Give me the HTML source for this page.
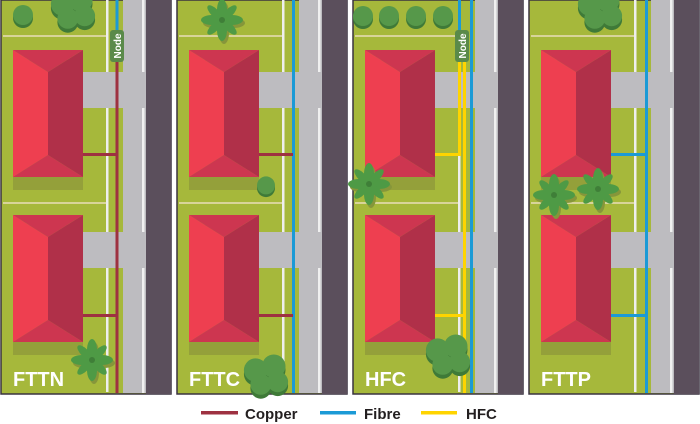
<!DOCTYPE html>
<html><head><meta charset="utf-8"><style>
html,body{margin:0;padding:0;background:#fff;width:700px;height:424px;overflow:hidden}
svg{display:block;font-family:"Liberation Sans",sans-serif}
</style></head><body>
<svg width="700" height="424" viewBox="0 0 700 424" xmlns="http://www.w3.org/2000/svg">
<defs>
<g id="house">
<rect x="13" y="60" width="70" height="130" fill="#94a03a"/>
<polygon points="13,50 48,72 48,155 13,177" fill="#ee3f50"/>
<polygon points="83,50 83,177 48,155 48,72" fill="#b03049"/>
<polygon points="13,50 83,50 48,72" fill="#cd3650"/>
<polygon points="13,177 83,177 48,155" fill="#cd3650"/>
</g>
<g id="base">
<rect x="1" y="0" width="170" height="394" fill="#a6b83b" stroke="#3a3340" stroke-width="1.5"/>
<rect x="3" y="35" width="104" height="2" fill="#d8d49a"/>
<rect x="3" y="202" width="104" height="2" fill="#d8d49a"/>
<rect x="106" y="0" width="2.5" height="392" fill="#eeeeee"/>
<rect x="123" y="0" width="23" height="393" fill="#bdbcc0"/>
<rect x="142" y="0" width="2.5" height="393" fill="#f0f0f0"/>
<rect x="83" y="72" width="63" height="36" fill="#bdbcc0"/>
<rect x="83" y="232" width="63" height="36" fill="#bdbcc0"/>
<rect x="146" y="0" width="25" height="394" fill="#5b4f5c"/>
<use href="#house"/>
<use href="#house" transform="translate(0,165)"/>
</g>
<g id="palm">
<g fill="#86963a" transform="translate(2,3)">
<ellipse cx="0" cy="-10" rx="5" ry="11"/><ellipse cx="0" cy="10" rx="5" ry="11"/><ellipse cx="-10" cy="0" rx="11" ry="5"/><ellipse cx="10" cy="0" rx="11" ry="5"/>
</g>
<g fill="#4e9a45">
<ellipse cx="0" cy="-10" rx="5" ry="11"/><ellipse cx="0" cy="10" rx="5" ry="11"/><ellipse cx="-10" cy="0" rx="11" ry="5"/><ellipse cx="10" cy="0" rx="11" ry="5"/>
<ellipse cx="0" cy="-10" rx="4" ry="10" transform="rotate(45)"/><ellipse cx="0" cy="10" rx="4" ry="10" transform="rotate(45)"/><ellipse cx="-10" cy="0" rx="10" ry="4" transform="rotate(45)"/><ellipse cx="10" cy="0" rx="10" ry="4" transform="rotate(45)"/>
</g>
<circle r="3" fill="#3f7f38"/>
</g>
<g id="bush"><circle cx="0" cy="3" r="10" fill="#3f7a38"/><circle r="10" fill="#56984a"/></g>
<g id="cloud">
<g transform="scale(1.3)">
<g fill="#3f7a38" transform="translate(0,3)"><circle cx="-8" cy="-3" r="9"/><circle cx="6" cy="-6" r="9"/><circle cx="9" cy="6" r="8"/><circle cx="-4" cy="8" r="8"/></g>
<g fill="#56984a"><circle cx="-8" cy="-3" r="9"/><circle cx="6" cy="-6" r="9"/><circle cx="9" cy="6" r="8"/><circle cx="-4" cy="8" r="8"/></g>
</g>
</g>
</defs>

<g>
<use href="#base"/>
<rect x="115.5" y="0" width="3" height="32" fill="#1b9ad6"/>
<rect x="115.5" y="60" width="3" height="333" fill="#9e3141"/>
<rect x="83" y="153" width="34" height="3" fill="#9e3141"/>
<rect x="83" y="314" width="34" height="3" fill="#9e3141"/>
<rect x="110" y="30" width="14" height="32" rx="3" fill="#5a8a4a"/>
<text transform="translate(121,46) rotate(-90)" text-anchor="middle" font-size="10" font-weight="bold" fill="#fff">Node</text>
<use href="#bush" x="23" y="15"/>
<use href="#cloud" x="73" y="8"/>
<use href="#palm" x="92" y="360"/>
<text x="13" y="386" font-size="20" font-weight="bold" fill="#fff">FTTN</text>
</g>

<g transform="translate(176,0)">
<use href="#base"/>
<rect x="116" y="0" width="3" height="393" fill="#1b9ad6"/>
<rect x="83" y="153" width="34" height="3" fill="#9e3141"/>
<rect x="83" y="314" width="34" height="3" fill="#9e3141"/>
<use href="#palm" x="46" y="20"/>
<use href="#bush" x="90" y="186" transform="scale(0.9) translate(10,20)"/>
<use href="#cloud" x="90" y="374"/>
<text x="13" y="386" font-size="20" font-weight="bold" fill="#fff">FTTC</text>
</g>

<g transform="translate(352,0)">
<use href="#base"/>
<rect x="118" y="0" width="3" height="393" fill="#1b9ad6"/>
<rect x="106" y="0" width="3" height="32" fill="#1b9ad6"/>
<rect x="106" y="60" width="3" height="96" fill="#ffd400"/>
<rect x="83" y="153" width="26" height="3" fill="#ffd400"/>
<rect x="111" y="60" width="3" height="333" fill="#ffd400"/>
<rect x="83" y="314" width="31" height="3" fill="#ffd400"/>
<rect x="103" y="30" width="14" height="32" rx="3" fill="#5a8a4a"/>
<text transform="translate(114,46) rotate(-90)" text-anchor="middle" font-size="10" font-weight="bold" fill="#fff">Node</text>
<use href="#bush" x="11" y="16"/>
<use href="#bush" x="37" y="16"/>
<use href="#bush" x="64" y="16"/>
<use href="#bush" x="91" y="16"/>
<use href="#palm" x="17" y="184"/>
<use href="#cloud" x="96" y="354"/>
<text x="13" y="386" font-size="20" font-weight="bold" fill="#fff">HFC</text>
</g>

<g transform="translate(528,0)">
<use href="#base"/>
<rect x="117" y="0" width="3" height="393" fill="#1b9ad6"/>
<rect x="83" y="153" width="36" height="3" fill="#1b9ad6"/>
<rect x="83" y="314" width="36" height="3" fill="#1b9ad6"/>
<use href="#cloud" x="72" y="8"/>
<use href="#palm" x="26" y="195"/>
<use href="#palm" x="70" y="189"/>
<text x="13" y="386" font-size="20" font-weight="bold" fill="#fff">FTTP</text>
</g>

<rect x="201" y="411" width="37" height="3.5" fill="#9e3141"/>
<text x="245" y="419" font-size="15" font-weight="bold" fill="#231f20">Copper</text>
<rect x="320" y="411" width="36" height="3.5" fill="#1b9ad6"/>
<text x="364" y="419" font-size="15" font-weight="bold" fill="#231f20">Fibre</text>
<rect x="421" y="411" width="36" height="3.5" fill="#ffd400"/>
<text x="466" y="419" font-size="15" font-weight="bold" fill="#231f20">HFC</text>
</svg>
</body></html>
